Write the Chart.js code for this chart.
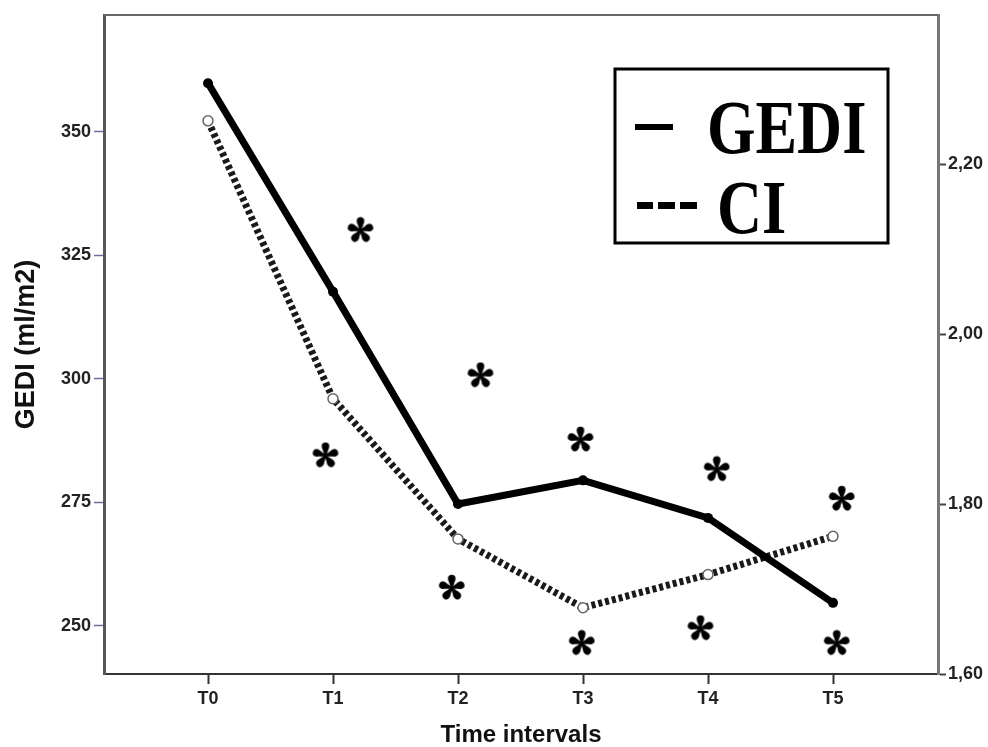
<!DOCTYPE html>
<html>
<head>
<meta charset="utf-8">
<script src="https://cdn.jsdelivr.net/npm/chart.js@4.4.1/dist/chart.umd.min.js"></script>
<style>
  html, body { margin: 0; padding: 0; background: #fff; }
  canvas { display: block; }
</style>
</head>
<body>
<canvas id="gedi_chart" width="988" height="747"></canvas>
<script>
// values
var timeLabels = ['T0', 'T1', 'T2', 'T3', 'T4', 'T5'];
var gediValues = [359.8, 317.6, 274.6, 279.4, 271.8, 254.6];
var ciValues = [2.251, 1.924, 1.759, 1.678, 1.717, 1.762];
var gediTicks = [250, 275, 300, 325, 350];
var ciTicks = [1.60, 1.80, 2.00, 2.20];
// significance marks, x in interval units, y on the GEDI axis
var starX = [1.22, 0.94, 2.18, 1.95, 2.98, 2.99, 4.07, 3.94, 5.07, 5.03];
var starY = [330.0, 284.4, 300.6, 257.6, 287.6, 246.4, 281.6, 249.4, 275.6, 246.4];

function makeStar(size) {
    var c = document.createElement('canvas');
    c.width = size;
    c.height = size;
    var g = c.getContext('2d');
    g.translate(size / 2, size / 2);
    g.fillStyle = '#000';
    var R = size * 0.47, r = size * 0.135, d = R - r;
    var th = Math.asin(r / d), L = Math.sqrt(d * d - r * r);
    for (var k = 0; k < 5; k++) {
        g.save();
        g.rotate(-Math.PI / 2 + k * 2 * Math.PI / 5);
        g.beginPath();
        g.moveTo(0, -0.8);
        g.lineTo(L * Math.cos(th), -L * Math.sin(th));
        g.lineTo(L * Math.cos(th), L * Math.sin(th));
        g.lineTo(0, 0.8);
        g.closePath();
        g.fill();
        g.beginPath();
        g.arc(d, 0, r, 0, Math.PI * 2);
        g.fill();
        g.restore();
    }
    g.beginPath();
    g.arc(0, 0, size * 0.06, 0, Math.PI * 2);
    g.fill();
    return c;
}

function toPoints(values) {
    return values.map(function (v, i) { return { x: i, y: v }; });
}

var starPoints = starX.map(function (x, i) { return { x: x, y: starY[i] }; });

var framePlugin = {
    id: 'frame',
    afterDraw: function (chart) {
        var ctx = chart.ctx, a = chart.chartArea;
        ctx.save();
        ctx.strokeStyle = '#666';
        ctx.lineWidth = 2;
        ctx.beginPath();
        ctx.moveTo(a.left, a.top);
        ctx.lineTo(a.right, a.top);
        ctx.stroke();

        // legend box
        ctx.strokeStyle = '#000';
        ctx.lineWidth = 3;
        ctx.strokeRect(615, 69, 273, 174);
        ctx.fillStyle = '#000';
        ctx.fillRect(635, 124, 38, 6);
        ctx.fillRect(637, 202, 16, 7);
        ctx.fillRect(658, 202, 17, 7);
        ctx.fillRect(680, 202, 17, 7);

        ctx.font = 'bold 77px "Liberation Serif", "Times New Roman", serif';
        ctx.textBaseline = 'alphabetic';
        ctx.textAlign = 'left';
        ctx.save();
        ctx.translate(707, 153);
        ctx.scale(0.81, 1);
        ctx.fillText('GEDI', 0, 0);
        ctx.restore();
        ctx.save();
        ctx.translate(717, 233);
        ctx.scale(0.81, 1);
        ctx.fillText('CI', 0, 0);
        ctx.restore();
        ctx.restore();
    }
};

var tickFont = { family: '"Liberation Sans", Arial, sans-serif', size: 18, weight: 'bold' };

var gedi_chart = new Chart(document.getElementById('gedi_chart'), {
    type: 'line',
    data: {
        datasets: [{
            label: 'GEDI',
            data: toPoints(gediValues),
            yAxisID: 'y',
            borderColor: '#000',
            backgroundColor: '#000',
            borderWidth: 7,
            pointRadius: 5,
            pointBackgroundColor: '#000',
            pointBorderWidth: 0,
            tension: 0
        }, {
            label: 'CI',
            data: toPoints(ciValues),
            yAxisID: 'y1',
            borderColor: '#1a1a1a',
            borderWidth: 7,
            borderDash: [4, 3],
            pointRadius: 5,
            pointBackgroundColor: '#fff',
            pointBorderColor: '#666',
            pointBorderWidth: 1.5,
            tension: 0
        }, {
            label: 'stars',
            type: 'scatter',
            data: starPoints,
            yAxisID: 'y',
            showLine: false,
            pointStyle: makeStar(28),
            pointRadius: 14
        }]
    },
    options: {
        responsive: false,
        animation: false,
        layout: {
            padding: { top: 7, left: 0, right: 0, bottom: 0 }
        },
        plugins: {
            legend: { display: false },
            tooltip: { enabled: false }
        },
        scales: {
            x: {
                type: 'linear',
                min: -0.832,
                max: 5.84,
                afterBuildTicks: function (scale) {
                    scale.ticks = timeLabels.map(function (t, i) { return { value: i }; });
                },
                afterFit: function (scale) { scale.height = 73; },
                ticks: {
                    callback: function (v) { return timeLabels[v]; },
                    color: '#222',
                    font: tickFont,
                    padding: 4,
                    maxRotation: 0
                },
                grid: {
                    drawOnChartArea: false,
                    tickLength: 10,
                    tickWidth: 2,
                    tickColor: '#333'
                },
                border: { color: '#333', width: 2 },
                title: {
                    display: true,
                    text: 'Time intervals',
                    color: '#111',
                    font: { family: '"Liberation Sans", Arial, sans-serif', size: 24, weight: 'bold', lineHeight: 1 },
                    padding: { top: 0, bottom: 0 }
                }
            },
            y: {
                position: 'left',
                min: 240.2,
                max: 373.6,
                afterBuildTicks: function (scale) {
                    scale.ticks = gediTicks.map(function (v) { return { value: v }; });
                },
                afterFit: function (scale) { scale.width = 104; },
                ticks: {
                    color: '#222',
                    font: tickFont,
                    padding: 3
                },
                grid: {
                    drawOnChartArea: false,
                    tickLength: 10,
                    tickWidth: 1.5,
                    tickColor: '#6b6b9e'
                },
                border: { color: '#555', width: 3 },
                title: {
                    display: true,
                    text: 'GEDI (ml/m2)',
                    color: '#111',
                    font: { family: '"Liberation Sans", Arial, sans-serif', size: 27, weight: 'bold', lineHeight: 1 },
                    padding: { top: 13, bottom: 0 }
                }
            },
            y1: {
                position: 'right',
                min: 1.60,
                max: 2.3756,
                afterBuildTicks: function (scale) {
                    scale.ticks = ciTicks.map(function (v) { return { value: v }; });
                },
                afterFit: function (scale) { scale.width = 50; },
                ticks: {
                    color: '#222',
                    font: tickFont,
                    padding: 2,
                    callback: function (v) { return v.toFixed(2).replace('.', ','); }
                },
                grid: {
                    drawOnChartArea: false,
                    tickLength: 8,
                    tickWidth: 2,
                    tickColor: '#444'
                },
                border: { color: '#777', width: 3 }
            }
        }
    },
    plugins: [framePlugin]
});
</script>
</body>
</html>
